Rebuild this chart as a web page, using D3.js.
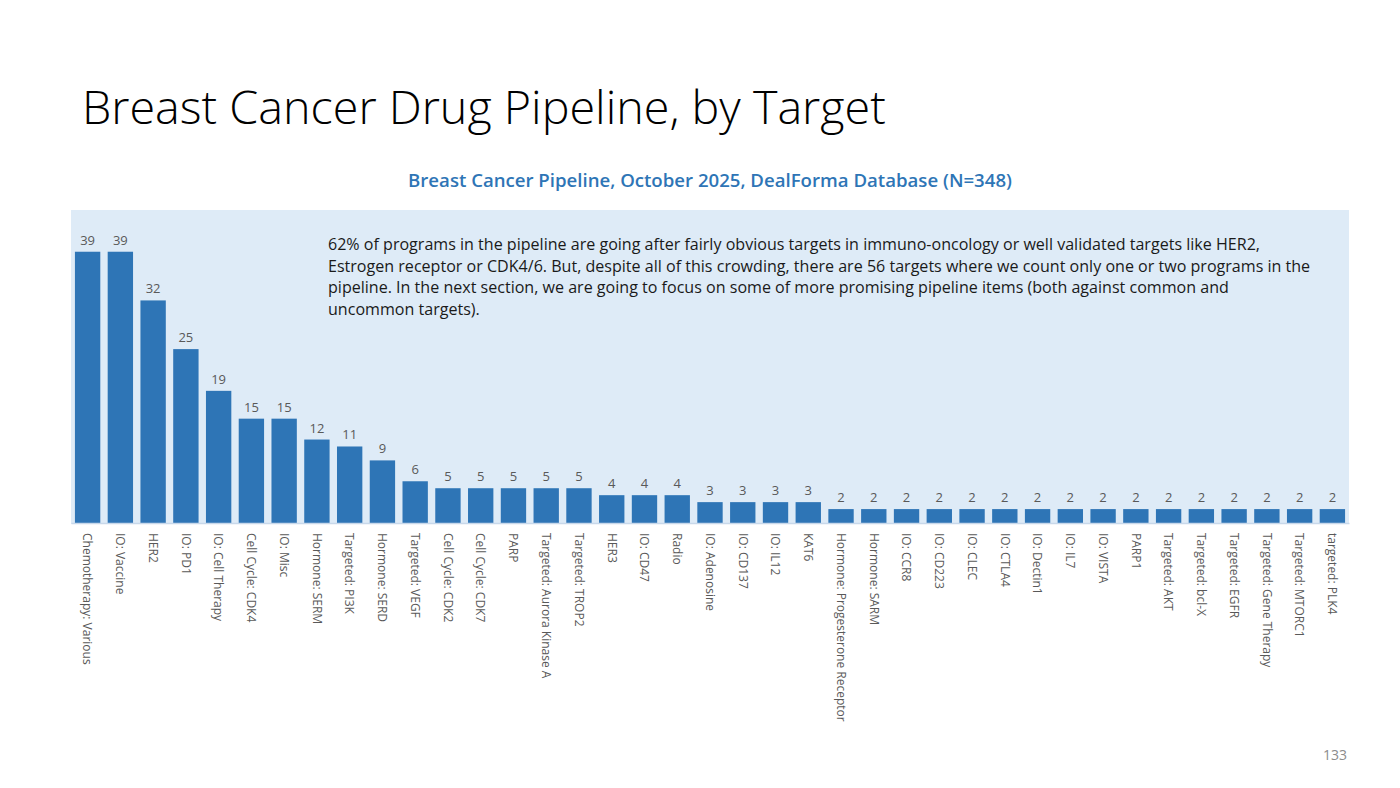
<!DOCTYPE html>
<html>

<head>
  <meta charset="utf-8">
  <title>Breast Cancer Drug Pipeline, by Target</title>
  <style>
  body {
    margin: 0;
    background: #ffffff;
    font-family: "Open Sans", "Noto Sans", sans-serif;
  }
  .axis text {
    fill: #595959;
    font-size: 12px;
  }
</style>
</head>

<body>
  <div id="viz"></div>

  <script src="https://d3js.org/d3.v7.min.js"></script>
  <script>
    // chart data
    const targets = [
      "Chemotherapy: Various", "IO: Vaccine", "HER2", "IO: PD1", "IO: Cell Therapy",
      "Cell Cycle: CDK4", "IO: Misc", "Hormone: SERM", "Targeted: PI3K", "Hormone: SERD",
      "Targeted: VEGF", "Cell Cycle: CDK2", "Cell Cycle: CDK7", "PARP", "Targeted: Aurora Kinase A",
      "Targeted: TROP2", "HER3", "IO: CD47", "Radio", "IO: Adenosine",
      "IO: CD137", "IO: IL12", "KAT6", "Hormone: Progesterone Receptor", "Hormone: SARM",
      "IO: CCR8", "IO: CD223", "IO: CLEC", "IO: CTLA4", "IO: Dectin1",
      "IO: IL7", "IO: VISTA", "PARP1", "Targeted: AKT", "Targeted: bcl-X",
      "Targeted: EGFR", "Targeted: Gene Therapy", "Targeted: MTORC1", "targeted: PLK4"
    ];
    const programs = [
      39, 39, 32, 25, 19,
      15, 15, 12, 11, 9,
      6, 5, 5, 5, 5,
      5, 4, 4, 4, 3,
      3, 3, 3, 2, 2,
      2, 2, 2, 2, 2,
      2, 2, 2, 2, 2,
      2, 2, 2, 2
    ];

    const title = "Breast Cancer Drug Pipeline, by Target";
    const subtitle = "Breast Cancer Pipeline, October 2025, DealForma Database (N=348)";
    const noteLines = [
      "62% of programs in the pipeline are going after fairly obvious targets in immuno-oncology or well validated targets like HER2,",
      "Estrogen receptor or CDK4/6. But, despite all of this crowding, there are 56 targets where we count only one or two programs in the",
      "pipeline. In the next section, we are going to focus on some of more promising pipeline items (both against common and",
      "uncommon targets)."
    ];
    const pageNumber = "133";

    // layout
    const W = 1400, H = 788;
    const plot = {left: 71, right: 1349, top: 210, bottom: 523};
    const barColor = "#2e75b6";

    const svg = d3.select("#viz")
      .append("svg")
      .attr("width", W)
      .attr("height", H);

    // fit a text element's font size so it spans a given width
    function fitWidth(sel, target) {
      let size = parseFloat(sel.attr("font-size"));
      let w = sel.node().getComputedTextLength();
      sel.attr("font-size", size * target / w);
    }

    // title + subtitle
    let t = svg.append("text")
      .attr("x", 82)
      .attr("y", 124)
      .attr("font-size", 48)
      .attr("font-weight", 300)
      .attr("fill", "#000")
      .text(title);
    fitWidth(t, 804);

    let st = svg.append("text")
      .attr("x", 710)
      .attr("y", 187)
      .attr("text-anchor", "middle")
      .attr("font-size", 19)
      .attr("font-weight", 600)
      .attr("fill", "#2e75b6")
      .text(subtitle);
    fitWidth(st, 604);

    // plot background
    svg.append("rect")
      .attr("x", plot.left)
      .attr("y", plot.top)
      .attr("width", plot.right - plot.left)
      .attr("height", plot.bottom - plot.top + 1)
      .attr("fill", "#deebf7");

    // scales
    const x = d3.scaleBand()
      .domain(targets)
      .range([plot.left, plot.right])
      .paddingInner(0.226)
      .paddingOuter(0.12);

    const y = d3.scaleLinear()
      .domain([0, 45])
      .range([plot.bottom, plot.top]);

    // bars
    svg.append("g")
      .selectAll("rect")
      .data(programs)
      .join("rect")
      .attr("x", (d, i) => x(targets[i]))
      .attr("y", d => y(d))
      .attr("width", x.bandwidth())
      .attr("height", d => y(0) - y(d))
      .attr("fill", barColor);

    // value labels
    svg.append("g")
      .selectAll("text")
      .data(programs)
      .join("text")
      .attr("x", (d, i) => x(targets[i]) + x.bandwidth() / 2)
      .attr("y", d => y(d) - 7)
      .attr("text-anchor", "middle")
      .attr("font-size", 13)
      .attr("fill", "#595959")
      .text(d => d);

    // category axis
    let gX = svg.append("g")
      .attr("class", "axis")
      .attr("transform", `translate(0,${plot.bottom})`)
      .call(d3.axisBottom(x).tickSize(0));
    gX.select(".domain")
      .attr("stroke", "#c8d8ea")
      .attr("stroke-width", 1.5);
    gX.selectAll("text")
      .attr("transform", "rotate(90)")
      .attr("x", 10)
      .attr("y", 0)
      .attr("dy", "0.35em")
      .attr("text-anchor", "start");
    gX.attr("font-family", null).attr("font-size", null);

    // annotation
    let note = svg.append("text")
      .attr("x", 328)
      .attr("y", 250)
      .attr("font-size", 15.5)
      .attr("fill", "#1a1a1a");
    note.selectAll("tspan")
      .data(noteLines)
      .join("tspan")
      .attr("x", 328)
      .attr("dy", (d, i) => i === 0 ? 0 : 21.5)
      .text(d => d);
    // fit longest line to the reference width
    let longest = note.select("tspan:nth-child(2)").node().getComputedTextLength();
    note.attr("font-size", 15.5 * 983 / longest);

    // page number
    svg.append("text")
      .attr("x", 1347)
      .attr("y", 760)
      .attr("text-anchor", "end")
      .attr("font-size", 14)
      .attr("fill", "#8c8c8c")
      .text(pageNumber);
  </script>

</body>
</html>
